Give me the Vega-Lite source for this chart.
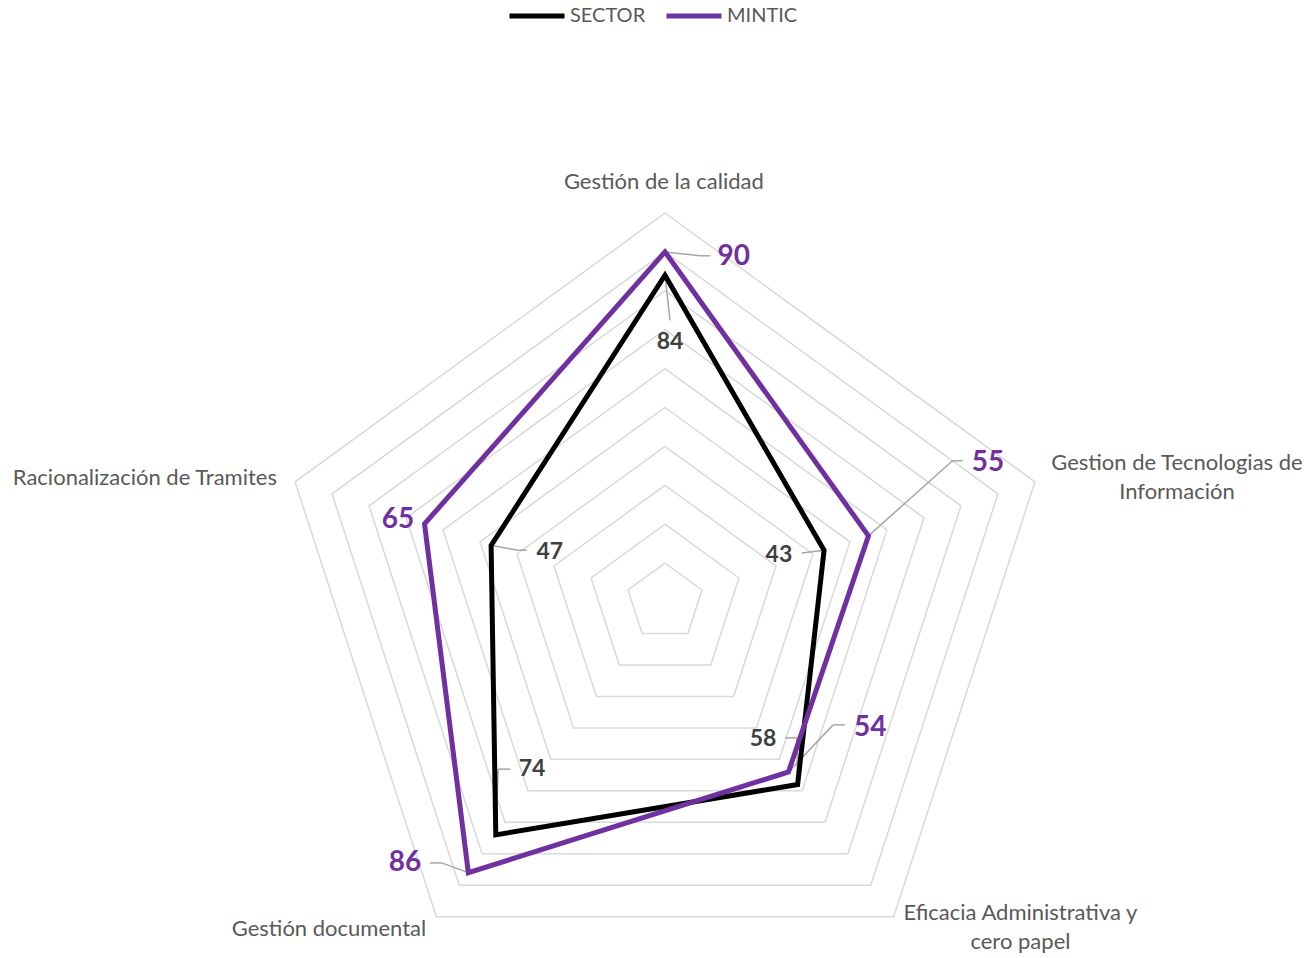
{
  "$schema": "https://vega.github.io/schema/vega-lite/v6.json",
  "width": 1311,
  "height": 958,
  "autosize": {"type": "none"},
  "padding": 0,
  "background": "white",
  "config": {"view": {"stroke": null}, "font": "Lato"},
  "datasets": {
    "scores": [
      {"axis": "Gestión de la calidad", "k": 0, "series": "SECTOR", "value": 84},
      {"axis": "Gestion de Tecnologias de Información", "k": 1, "series": "SECTOR", "value": 43},
      {"axis": "Eficacia Administrativa y cero papel", "k": 2, "series": "SECTOR", "value": 58},
      {"axis": "Gestión documental", "k": 3, "series": "SECTOR", "value": 74},
      {"axis": "Racionalización de Tramites", "k": 4, "series": "SECTOR", "value": 47},
      {"axis": "Gestión de la calidad", "k": 0, "series": "MINTIC", "value": 90},
      {"axis": "Gestion de Tecnologias de Información", "k": 1, "series": "MINTIC", "value": 55},
      {"axis": "Eficacia Administrativa y cero papel", "k": 2, "series": "MINTIC", "value": 54},
      {"axis": "Gestión documental", "k": 3, "series": "MINTIC", "value": 86},
      {"axis": "Racionalización de Tramites", "k": 4, "series": "MINTIC", "value": 65}
    ],
    "axes": [
      {"k": 0, "label": "Gestión de la calidad", "levels": [10, 20, 30, 40, 50, 60, 70, 80, 90, 100]},
      {"k": 1, "label": "Gestion de Tecnologias de\nInformación", "levels": [10, 20, 30, 40, 50, 60, 70, 80, 90, 100]},
      {"k": 2, "label": "Eficacia Administrativa y\ncero papel", "levels": [10, 20, 30, 40, 50, 60, 70, 80, 90, 100]},
      {"k": 3, "label": "Gestión documental", "levels": [10, 20, 30, 40, 50, 60, 70, 80, 90, 100]},
      {"k": 4, "label": "Racionalización de Tramites", "levels": [10, 20, 30, 40, 50, 60, 70, 80, 90, 100]}
    ]
  },
  "encoding": {
    "x": {"field": "x", "type": "quantitative", "scale": {"domain": [-170.95, 166.07], "nice": false, "zero": false}, "axis": null},
    "y": {"field": "y", "type": "quantitative", "scale": {"domain": [-91.52, 154.76], "nice": false, "zero": false}, "axis": null}
  },
  "layer": [
    {
      "data": {"name": "axes"},
      "transform": [
        {"flatten": ["levels"], "as": ["level"]},
        {"calculate": "datum.level*sin(2*PI*datum.k/5)", "as": "x"},
        {"calculate": "datum.level*cos(2*PI*datum.k/5)", "as": "y"}
      ],
      "mark": {"type": "line", "interpolate": "linear-closed", "stroke": "#D9D9D9", "strokeWidth": 1.5},
      "encoding": {"detail": {"field": "level", "type": "nominal"}, "order": {"field": "k", "type": "quantitative"}}
    },
    {
      "data": {"name": "axes"},
      "transform": [
        {"calculate": "100*sin(2*PI*datum.k/5) + [-0.3, 36.5, 32.6, -27.6, -38.6][datum.k]", "as": "x"},
        {"calculate": "100*cos(2*PI*datum.k/5) + [8.0, 4.9, 0.9, -3.2, 1.0][datum.k]", "as": "y"}
      ],
      "mark": {"type": "text", "align": "center", "baseline": "middle", "fontSize": 22, "color": "#595959", "lineBreak": "\n", "lineHeight": 29},
      "encoding": {"text": {"field": "label", "type": "nominal"}}
    },
    {
      "data": {"name": "scores"},
      "transform": [
        {"calculate": "datum.k + (datum.series === 'MINTIC' ? 5 : 0)", "as": "i"},
        {"calculate": "datum.value*sin(2*PI*datum.k/5)", "as": "px"},
        {"calculate": "datum.value*cos(2*PI*datum.k/5)", "as": "py"},
        {"calculate": "datum.px", "as": "x"},
        {"calculate": "datum.py", "as": "y"},
        {"calculate": "datum.px + [1.3, -5.7, -0.2, 0.6, 7.0, 9.0, 21.6, 11.5, -6.9, 0][datum.i]", "as": "x2"},
        {"calculate": "datum.py + [-11.6, -0.7, 12.0, 16.9, -1.2, -1.0, 19.3, 12.1, 2.5, 0][datum.i]", "as": "y2"}
      ],
      "mark": {"type": "rule", "color": "#A6A6A6", "strokeWidth": 1.5},
      "encoding": {"x2": {"field": "x2"}, "y2": {"field": "y2"}}
    },
    {
      "data": {"name": "scores"},
      "transform": [
        {"calculate": "datum.k + (datum.series === 'MINTIC' ? 5 : 0)", "as": "i"},
        {"calculate": "datum.value*sin(2*PI*datum.k/5)", "as": "px"},
        {"calculate": "datum.value*cos(2*PI*datum.k/5)", "as": "py"},
        {"calculate": "datum.px + [1.3, -5.7, -0.2, 0.6, 7.0, 9.0, 21.6, 11.5, -6.9, 0][datum.i]", "as": "x"},
        {"calculate": "datum.py + [-11.6, -0.7, 12.0, 16.9, -1.2, -1.0, 19.3, 12.1, 2.5, 0][datum.i]", "as": "y"},
        {"calculate": "datum.px + [1.3, -5.7, -3.2, 3.7, 9.2, 11.6, 24.2, 14.5, -9.9, 0][datum.i]", "as": "x2"},
        {"calculate": "datum.py + [-11.6, -0.7, 12.0, 16.9, -1.2, -1.0, 19.3, 12.1, 2.5, 0][datum.i]", "as": "y2"}
      ],
      "mark": {"type": "rule", "color": "#A6A6A6", "strokeWidth": 1.5},
      "encoding": {"x2": {"field": "x2"}, "y2": {"field": "y2"}}
    },
    {
      "data": {"name": "scores"},
      "transform": [
        {"calculate": "datum.value*sin(2*PI*datum.k/5)", "as": "x"},
        {"calculate": "datum.value*cos(2*PI*datum.k/5)", "as": "y"}
      ],
      "mark": {"type": "line", "interpolate": "linear-closed", "strokeWidth": 5},
      "encoding": {
        "color": {
          "field": "series",
          "type": "nominal",
          "scale": {"domain": ["SECTOR", "MINTIC"], "range": ["#000000", "#7030A0"]},
          "legend": {
            "title": null,
            "orient": "none",
            "legendX": 507,
            "legendY": -14,
            "direction": "horizontal",
            "symbolType": "stroke",
            "symbolSize": 3025,
            "symbolStrokeWidth": 5,
            "labelFont": "Lato",
            "labelFontSize": 20,
            "labelColor": "#595959",
            "labelOffset": 3,
            "columnPadding": 10
          }
        },
        "order": {"field": "k", "type": "quantitative"}
      }
    },
    {
      "data": {"name": "scores"},
      "transform": [
        {"calculate": "datum.k + (datum.series === 'MINTIC' ? 5 : 0)", "as": "i"},
        {"calculate": "datum.value*sin(2*PI*datum.k/5) + [1.3, -11.6, -8.9, 9.3, 15.1, 17.7, 30.7, 21.0, -16.3, -6.8][datum.i]", "as": "x"},
        {"calculate": "datum.value*cos(2*PI*datum.k/5) + [-17.2, -1.2, 11.7, 16.9, -1.7, -1.2, 18.7, 11.3, 2.5, 1.0][datum.i]", "as": "y"}
      ],
      "mark": {"type": "text", "align": "center", "baseline": "middle", "fontWeight": "bold"},
      "encoding": {
        "text": {"field": "value", "type": "quantitative"},
        "color": {"condition": {"test": "datum.series === 'MINTIC'", "value": "#7030A0"}, "value": "#404040"},
        "size": {"condition": {"test": "datum.series === 'MINTIC'", "value": 28}, "value": 23}
      }
    }
  ]
}
